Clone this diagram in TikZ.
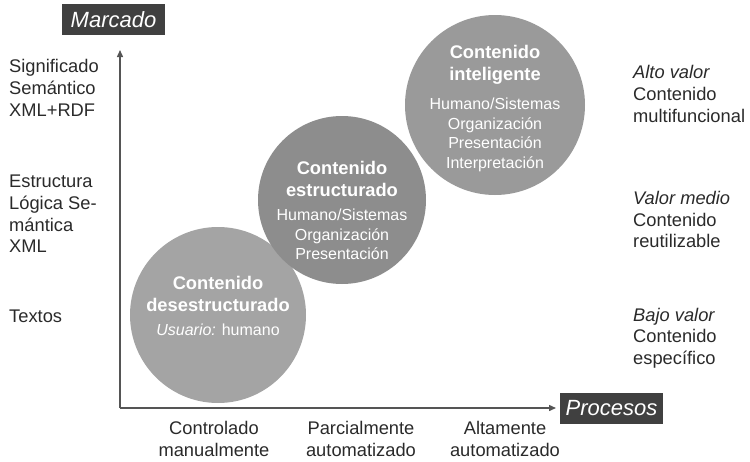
\documentclass[tikz,border=0pt]{standalone}
\usepackage{fontspec}
\setmainfont{Liberation Sans}
\usetikzlibrary{arrows.meta}
\definecolor{txt}{HTML}{2A2A2A}
\definecolor{boxc}{HTML}{404040}
\definecolor{axisc}{HTML}{555555}
\definecolor{cA}{HTML}{A4A4A4}
\definecolor{cB}{HTML}{8D8D8D}
\definecolor{cC}{HTML}{9A9A9A}
\tikzset{
  lbl/.style={text=txt, font=\fontsize{18.3}{21.7}\selectfont, inner sep=0pt},
  titlebox/.style={fill=boxc, text=white, font=\fontsize{22}{26}\selectfont\itshape, minimum width=103pt, minimum height=31pt, inner sep=0pt},
  axisline/.style={draw=axisc, line width=1.4pt, -{Triangle[length=7pt,width=6pt]}},
  bubble/.style={circle, inner sep=0pt},
  ctitle/.style={text=white, font=\fontsize{18.3}{22}\selectfont\bfseries, align=center, inner sep=0pt},
  cbody/.style={text=white, font=\fontsize{16}{19.5}\selectfont, align=center, inner sep=0pt}
}
\begin{document}
\begin{tikzpicture}[x=1pt,y=-1pt]
\useasboundingbox (0,0) rectangle (750,461);
% circles
\node[bubble, fill=cA, minimum size=176pt] (c1) at (218,315) {};
\node[bubble, fill=cB, minimum size=168pt] (c2) at (342,200) {};
\node[bubble, fill=cC, minimum size=180pt] (c3) at (495,105) {};
% axes
\coordinate (o) at (120,408);
\coordinate (ytop) at (120,50);
\coordinate (xend) at (556,408);
\draw[axisline] (o) -- (ytop);
\draw[axisline] (o) -- (xend);
% title boxes
\node[titlebox] (marc) at (113.5,19.5) {Marcado};
\node[titlebox] (proc) at (611.5,408.5) {Procesos};
% circle texts
\node[ctitle] (t1) at (218,294) {Contenido\\desestructurado};
\node[cbody] (b1) at (218,330) {\itshape Usuario:\upshape{} humano};
\node[ctitle] (t2) at (342,178.5) {Contenido\\estructurado};
\node[cbody] (b2) at (342,234.5) {Humano/Sistemas\\Organización\\Presentación};
\node[ctitle] (t3) at (495,64.5) {Contenido\\inteligente};
\node[cbody] (b3) at (495,135) {Humano/Sistemas\\Organización\\Presentación\\Interpretación};
% left labels
\node[lbl, align=left, anchor=west] (l1) at (9,88) {Significado\\Semántico\\XML+RDF};
\node[lbl, align=left, anchor=west] (l2) at (9,214) {Estructura\\Lógica Se-\\mántica\\XML};
\node[lbl, align=left, anchor=west] (l3) at (9,316) {Textos};
% right labels
\node[lbl, align=left, anchor=west] (r1) at (633,94) {\itshape Alto valor\\Contenido\\multifuncional};
\node[lbl, align=left, anchor=west] (r2) at (633,219.5) {\itshape Valor medio\\Contenido\\reutilizable};
\node[lbl, align=left, anchor=west] (r3) at (633,338) {\itshape Bajo valor\\Contenido\\específico};
% bottom labels
\node[lbl, align=center] (x1) at (214,439) {Controlado\\manualmente};
\node[lbl, align=center] (x2) at (361,439) {Parcialmente\\automatizado};
\node[lbl, align=center] (x3) at (505,439) {Altamente\\automatizado};
\end{tikzpicture}
\end{document}
